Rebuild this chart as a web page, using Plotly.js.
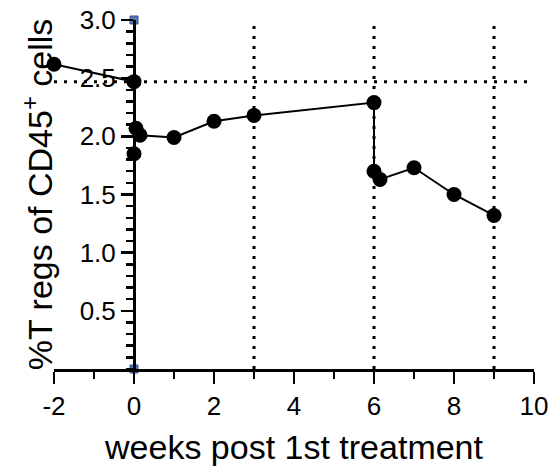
<!DOCTYPE html>
<html>
<head>
<meta charset="utf-8">
<script src="https://cdn.plot.ly/plotly-3.0.1.min.js"></script>
<style>
  html, body { margin: 0; padding: 0; background: #ffffff; }
  #chart { width: 549px; height: 467px; }
</style>
</head>
<body>
<div id="chart"></div>
<script>
// Treg percentage over the course of treatment (weeks relative to 1st treatment)
const weeks = [-2, 0, 0, 0.05, 0.15, 1, 2, 3, 6, 6, 6.15, 7, 8, 9];
const tregPct = [2.62, 2.47, 1.85, 2.07, 2.01, 1.99, 2.13, 2.18, 2.29, 1.70, 1.63, 1.73, 1.50, 1.32];

// Reference lines: treatment weeks and the week-0 baseline level
const treatmentWeeks = [3, 6, 9];
const baselineLevel = 2.47;

// Axis extents
const xRange = [-2, 10];
const yRange = [0, 3];
const xTickVals = [-2, 0, 2, 4, 6, 8, 10];
const xTickText = ['-2', '0', '2', '4', '6', '8', '10'];
const yTickVals = [0.5, 1.0, 1.5, 2.0, 2.5, 3.0];
const yTickText = ['0.5', '1.0', '1.5', '2.0', '2.5', '3.0'];

// End caps of the week-0 axis
const capX = [0, 0];
const capY = [yRange[1], yRange[0]];

const FONT = '"Liberation Sans", Arial, Helvetica, sans-serif';
const AX_W = 2.5;

const traces = [
  {
    type: 'scatter', mode: 'lines+markers',
    x: weeks, y: tregPct,
    line: { color: '#000000', width: 2 },
    marker: { color: '#000000', size: 15 },
    cliponaxis: false, hoverinfo: 'x+y'
  },
  {
    type: 'scatter', mode: 'markers',
    x: capX, y: capY, yaxis: 'y2',
    marker: { symbol: 'square', size: 8, color: '#5577b8', line: { color: '#34508c', width: 1 } },
    cliponaxis: false, hoverinfo: 'skip'
  }
];

const shapes = treatmentWeeks.map(w => ({
  type: 'line', xref: 'x', yref: 'y', layer: 'below',
  x0: w, x1: w, y0: yRange[0], y1: yRange[1],
  line: { color: '#000000', width: 3, dash: '3px,7px' }
}));
shapes.push({
  type: 'line', xref: 'x', yref: 'y', layer: 'below',
  x0: xRange[0], x1: xRange[1], y0: baselineLevel, y1: baselineLevel,
  line: { color: '#000000', width: 3, dash: '3px,7px' }
});

const layout = {
  width: 549, height: 467,
  margin: { l: 54, r: 15, t: 20, b: 98 },
  paper_bgcolor: '#ffffff', plot_bgcolor: '#ffffff',
  showlegend: false,
  font: { family: FONT, color: '#000000', size: 26 },
  xaxis: {
    range: xRange, tickvals: xTickVals, ticktext: xTickText,
    showgrid: false, zeroline: false,
    showline: true, linecolor: '#000000', linewidth: AX_W,
    ticks: 'outside', ticklen: 12, tickwidth: AX_W, tickcolor: '#000000',
    minor: { dtick: 1, tick0: 0, ticks: 'outside', ticklen: 7, tickwidth: AX_W, tickcolor: '#000000', showgrid: false },
    tickfont: { size: 26 },
    title: { text: 'weeks post 1st treatment', font: { size: 34 }, standoff: 16 }
  },
  yaxis: {
    range: yRange, showgrid: false, zeroline: false, showline: false,
    anchor: 'free', position: 0.022,
    showticklabels: false, ticks: '',
    title: { text: '%T regs of CD45<sup>+</sup> cells', font: { size: 34 }, standoff: 0 }
  },
  yaxis2: {
    overlaying: 'y', anchor: 'free', side: 'left',
    position: (0 - xRange[0]) / (xRange[1] - xRange[0]),
    range: yRange, tickvals: yTickVals, ticktext: yTickText,
    showgrid: false, zeroline: false,
    showline: true, linecolor: '#000000', linewidth: AX_W,
    ticks: 'outside', ticklen: 12, tickwidth: AX_W, tickcolor: '#000000',
    minor: { dtick: 0.1, tick0: 0, ticks: 'outside', ticklen: 7, tickwidth: AX_W, tickcolor: '#000000', showgrid: false },
    tickfont: { size: 26 }
  },
  shapes: shapes
};

Plotly.newPlot('chart', traces, layout, { displayModeBar: false, staticPlot: true });
</script>
</body>
</html>
